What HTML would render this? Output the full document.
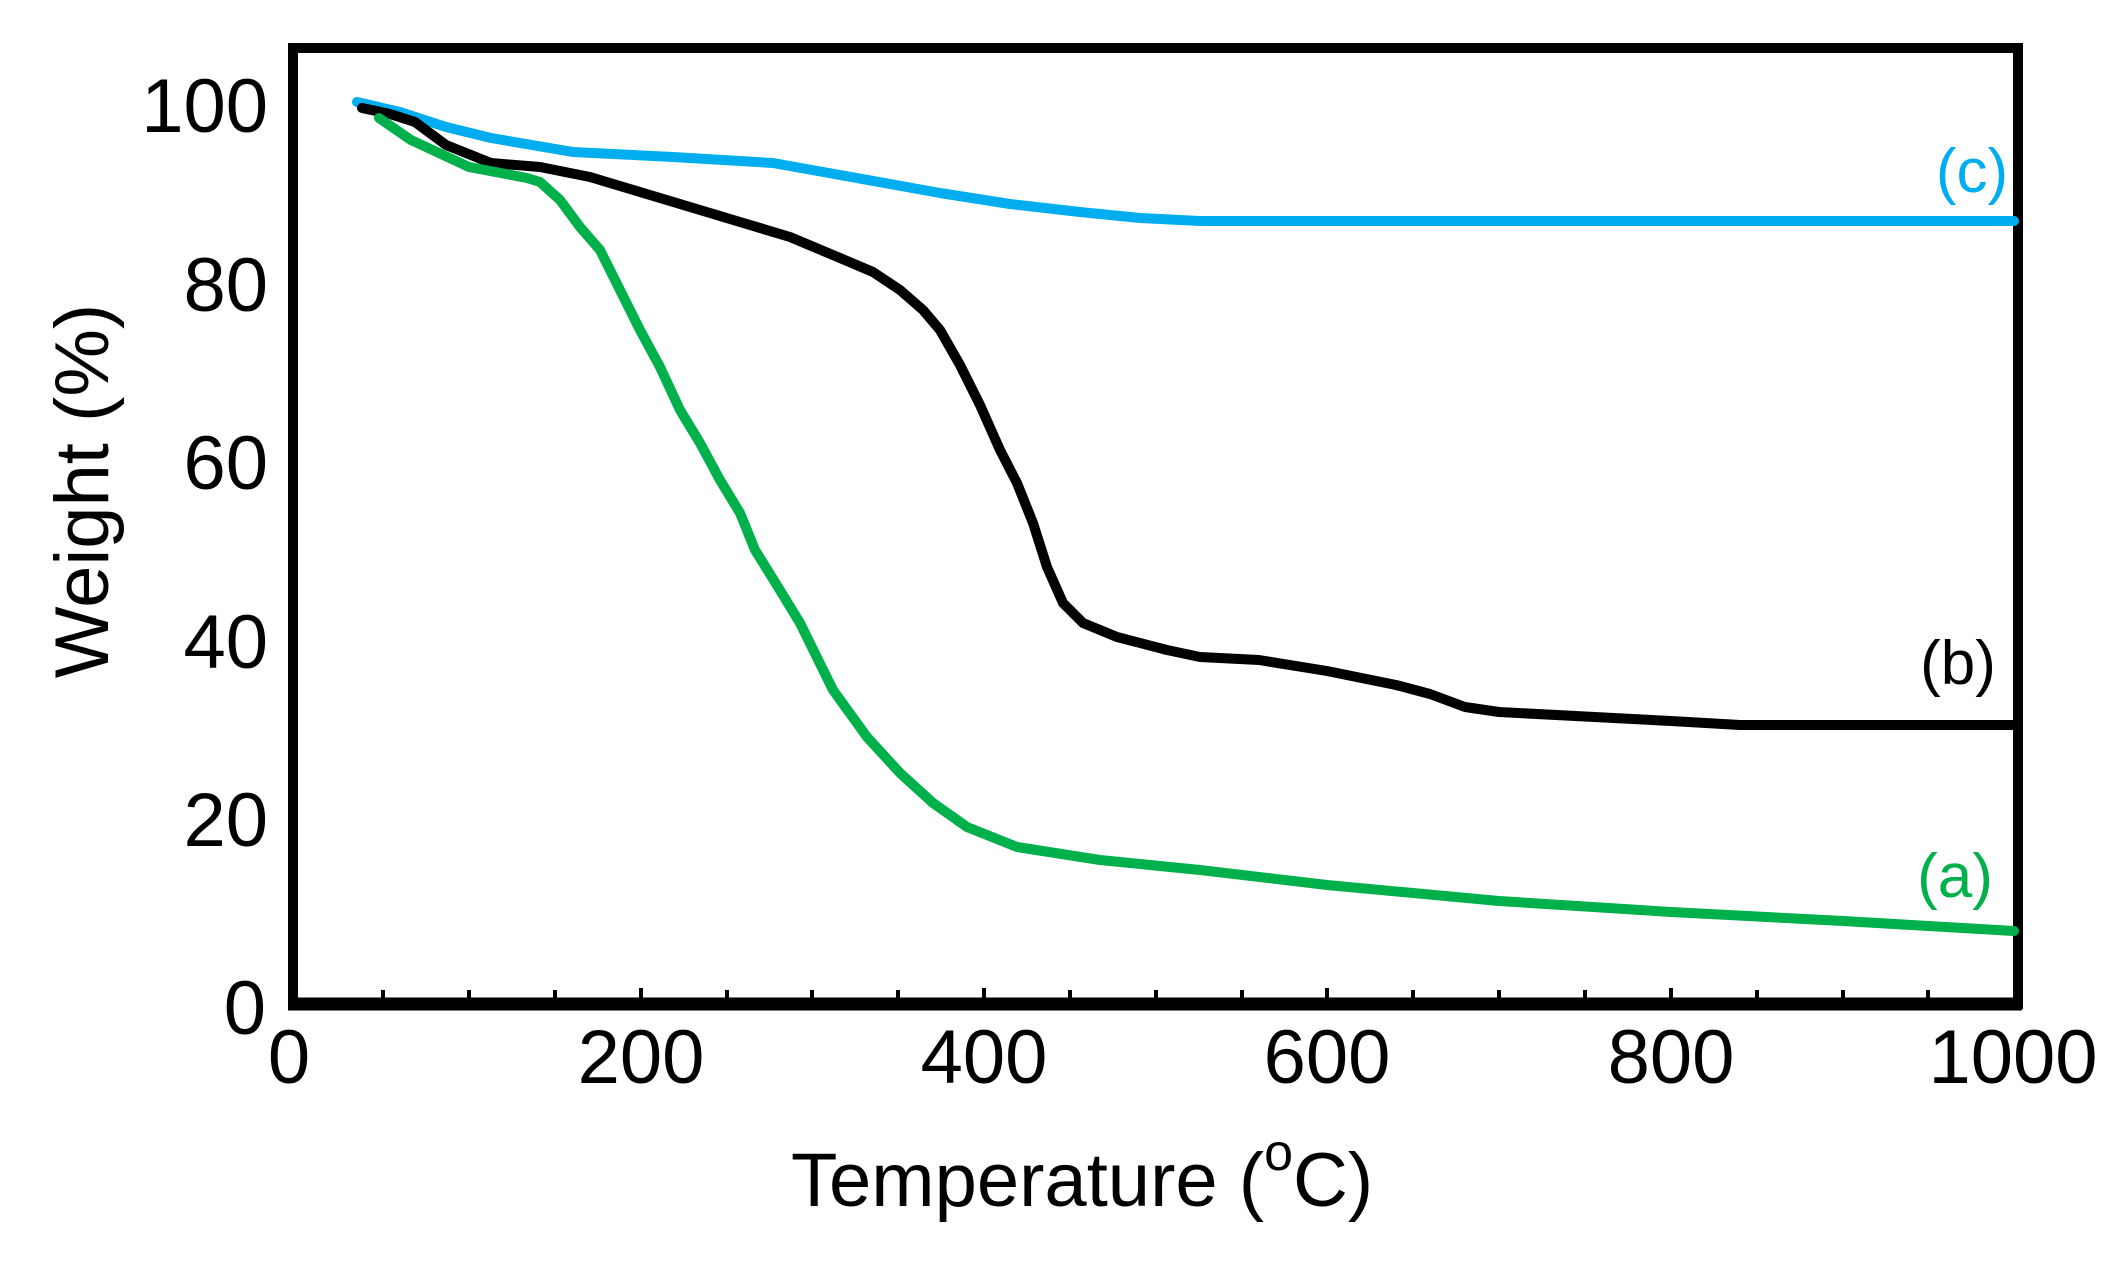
<!DOCTYPE html>
<html><head><meta charset="utf-8"><style>
html,body{margin:0;padding:0;background:#fff;}
svg{display:block;font-family:"Liberation Sans",Arial,sans-serif;}
</style></head><body>
<svg width="2128" height="1261" viewBox="0 0 2128 1261" xmlns="http://www.w3.org/2000/svg">
<rect width="2128" height="1261" fill="#fff"/>
<rect x="293" y="48" width="1725" height="956" fill="none" stroke="#000" stroke-width="10"/>
<line x1="288" y1="1004" x2="2022" y2="1004" stroke="#000" stroke-width="13"/>
<g stroke="#000" stroke-width="4">
<line x1="383" y1="998" x2="383" y2="990"/><line x1="469" y1="998" x2="469" y2="990"/>
<line x1="555" y1="998" x2="555" y2="990"/><line x1="641" y1="998" x2="641" y2="988"/>
<line x1="727" y1="998" x2="727" y2="990"/><line x1="812" y1="998" x2="812" y2="990"/>
<line x1="898" y1="998" x2="898" y2="990"/><line x1="984" y1="998" x2="984" y2="988"/>
<line x1="1070" y1="998" x2="1070" y2="990"/><line x1="1156" y1="998" x2="1156" y2="990"/>
<line x1="1242" y1="998" x2="1242" y2="990"/><line x1="1327" y1="998" x2="1327" y2="988"/>
<line x1="1413" y1="998" x2="1413" y2="990"/><line x1="1499" y1="998" x2="1499" y2="990"/>
<line x1="1585" y1="998" x2="1585" y2="990"/><line x1="1671" y1="998" x2="1671" y2="988"/>
<line x1="1757" y1="998" x2="1757" y2="990"/><line x1="1843" y1="998" x2="1843" y2="990"/>
<line x1="1928" y1="998" x2="1928" y2="990"/>
</g>
<g font-size="76" fill="#000" text-anchor="end">
<text x="268" y="132">100</text>
<text x="268" y="311">80</text>
<text x="268" y="489">60</text>
<text x="268" y="668">40</text>
<text x="268" y="846">20</text>
<text x="266" y="1034">0</text>
</g>
<g font-size="76" fill="#000" text-anchor="middle">
<text x="289" y="1083">0</text>
<text x="641" y="1083">200</text>
<text x="984" y="1083">400</text>
<text x="1327" y="1083">600</text>
<text x="1671" y="1083">800</text>
<text x="2013" y="1083">1000</text>
</g>
<text x="791" y="1206" font-size="76" fill="#000">Temperature (<tspan font-size="52" dy="-36">o</tspan><tspan dy="36">C)</tspan></text>
<text transform="translate(108,491) rotate(-90)" font-size="76" fill="#000" text-anchor="middle">Weight (%)</text>
<g fill="none" stroke-width="10" stroke-linejoin="round" stroke-linecap="round">
<polyline stroke="#00aeef" points="357,102 400,112 446,127 491,138 573,152 673,157 773,163 840,175 940,193 1010,204 1080,212 1140,218 1200,221 2014,221"/>
<polyline stroke="#000" points="362,108 390,114 415,122 446,145 491,163 540,167 590,177 640,192 690,207 740,222 790,237 840,258 873,272 900,290 923,310 940,330 960,365 980,405 1000,450 1017,483 1033,523 1047,567 1063,603 1083,623 1117,637 1167,650 1200,657 1259,660 1327,671 1396,685 1430,694 1465,707 1499,712 1671,721 1740,725 2014,725"/>
<polyline stroke="#00b04a" points="379,118 411,140 469,167 527,178 540,182 560,200 580,227 600,250 620,290 640,330 660,367 680,410 700,443 720,480 740,513 755,550 778,587 800,623 833,690 867,737 900,773 933,803 967,827 1017,847 1100,860 1200,870 1327,885 1499,901 1671,912 1843,921 2014,931"/>
</g>
<text x="1972" y="192" font-size="62" fill="#00aeef" text-anchor="middle">(c)</text>
<text x="1958" y="684" font-size="62" fill="#000" text-anchor="middle">(b)</text>
<text x="1955" y="897" font-size="62" fill="#00b04a" text-anchor="middle">(a)</text>
</svg>
</body></html>
